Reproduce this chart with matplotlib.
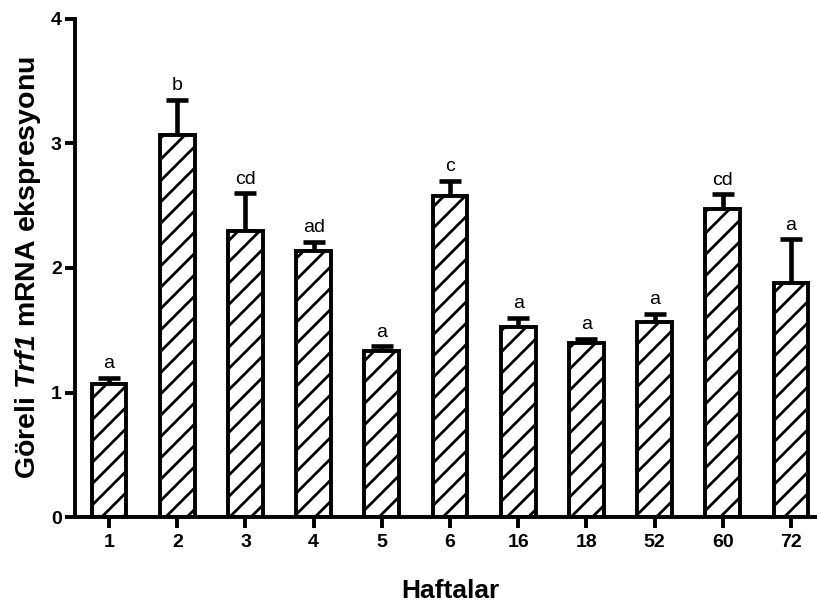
import numpy as np
import matplotlib.pyplot as plt

# figure drawn at 64 dpi so the single '/' hatch gets the tighter spacing of the original;
# k converts the sizes (worked out for 100 dpi) back to the same pixel sizes
DPI = 64
k = 100 / DPI

plt.rcParams['font.family'] = ['Liberation Sans', 'DejaVu Sans']
plt.rcParams['mathtext.fontset'] = 'custom'
plt.rcParams['mathtext.bfit'] = 'Liberation Sans:bold:italic'
plt.rcParams['hatch.linewidth'] = 2.0 * k

weeks = ['1', '2', '3', '4', '5', '6', '16', '18', '52', '60', '72']
means = [1.07, 3.07, 2.30, 2.14, 1.33, 2.58, 1.53, 1.40, 1.57, 2.47, 1.88]
upper_err = [0.05, 0.28, 0.30, 0.07, 0.04, 0.12, 0.07, 0.03, 0.06, 0.12, 0.35]
letters = ['a', 'b', 'cd', 'ad', 'a', 'c', 'a', 'a', 'a', 'cd', 'a']

fig = plt.figure(figsize=(817 / DPI, 607 / DPI), dpi=DPI)
ax = fig.add_axes([0.0918, 0.148, 0.918, 0.821])

x = np.arange(len(weeks))
ax.bar(x, means, width=0.51, color='white', edgecolor='black',
       linewidth=2.8 * k, hatch='/', zorder=2)
ax.errorbar(x, means, yerr=[np.zeros(len(means)), upper_err], fmt='none',
            ecolor='black', elinewidth=3.3 * k, capsize=8 * k,
            capthick=3.3 * k, zorder=1)

for xi, m, e, lab in zip(x, means, upper_err, letters):
    ax.text(xi, m + e + 0.045, lab, ha='center', va='bottom', fontsize=14 * k)

ax.set_xlim(-0.5, 10.5)
ax.set_ylim(0, 4)
ax.set_yticks([0, 1, 2, 3, 4])
ax.set_xticks(x)
ax.set_xticklabels(weeks)
for lbl in ax.get_xticklabels() + ax.get_yticklabels():
    lbl.set_fontweight('bold')
    lbl.set_fontsize(14 * k)

ax.spines['top'].set_visible(False)
ax.spines['right'].set_visible(False)
ax.spines['left'].set_linewidth(2.8 * k)
ax.spines['bottom'].set_linewidth(2.8 * k)
ax.tick_params(axis='y', width=2.8 * k, length=7.5 * k, pad=2 * k)
ax.tick_params(axis='x', width=2.8 * k, length=8 * k, pad=4 * k)

ax.set_xlabel('Haftalar', fontsize=19 * k, fontweight='bold', labelpad=20 * k)
ax.set_ylabel(r'Göreli $\mathbfit{Trf1}$ mRNA ekspresyonu', fontsize=20.5 * k,
              fontweight='bold', labelpad=6 * k)

fig.savefig('out.png', dpi=DPI)
